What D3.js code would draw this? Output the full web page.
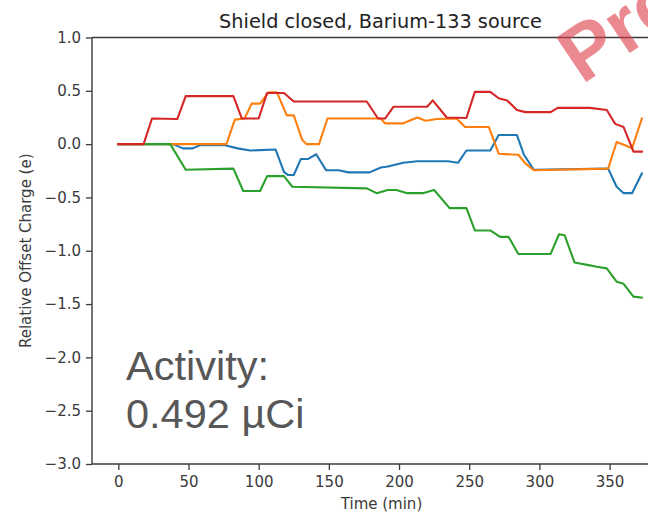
<!DOCTYPE html>
<html>
<head>
<meta charset="utf-8">
<script src="https://cdn.jsdelivr.net/npm/d3@7"></script>
<style>
  html, body { margin: 0; padding: 0; background: #fff; overflow: hidden; }
  svg { display: block; }
</style>
</head>
<body>
<svg id="chart" width="648" height="515"></svg>
<script>
// Relative offset charge of four qubits vs. time, Ba-133 source, shield closed
const blueSeries = [
  [0, 0], [39, 0], [46, -0.04], [53, -0.04], [58, -0.01], [76, -0.01], [85, -0.04],
  [94, -0.06], [112, -0.05], [118, -0.26], [121, -0.29], [125, -0.29], [130, -0.14],
  [135, -0.14], [141, -0.095], [148, -0.245], [157, -0.245], [164, -0.265], [179, -0.265],
  [187, -0.22], [192, -0.21], [203, -0.175], [213, -0.16], [235, -0.16], [242, -0.175],
  [248, -0.06], [265, -0.06], [271, 0.085], [284, 0.085], [289, -0.10], [296, -0.24],
  [349, -0.23], [355, -0.40], [360, -0.46], [366, -0.46], [373, -0.275]
];
const orangeSeries = [
  [0, 0], [77, 0], [83, 0.23], [90, 0.24], [95, 0.38], [101, 0.38], [107, 0.485],
  [113, 0.485], [120, 0.27], [125, 0.27], [131, 0.04], [134, 0.0], [143, 0.0], [149, 0.24],
  [187, 0.24], [190, 0.195], [203, 0.195], [213, 0.25], [219, 0.22], [227, 0.235],
  [241, 0.24], [247, 0.16], [264, 0.16], [271, -0.09], [285, -0.10], [290, -0.18],
  [296, -0.245], [349, -0.23], [355, 0.02], [361, -0.01], [366, -0.04], [373, 0.24]
];
const greenSeries = [
  [0, 0], [37, 0], [48, -0.24], [82, -0.23], [89, -0.44], [101, -0.44], [106, -0.30],
  [118, -0.30], [124, -0.40], [177, -0.415], [184, -0.46], [192, -0.43], [198, -0.43],
  [206, -0.46], [217, -0.46], [225, -0.43], [236, -0.60], [248, -0.60], [254, -0.81],
  [265, -0.81], [272, -0.87], [278, -0.87], [285, -1.03], [308, -1.03], [314, -0.845],
  [318, -0.855], [325, -1.11], [335, -1.135], [341, -1.15], [348, -1.165], [355, -1.29],
  [360, -1.31], [367, -1.43], [373, -1.44]
];
const redSeries = [
  [0, 0], [18, 0], [24, 0.24], [42, 0.235], [48, 0.45], [82, 0.45], [88, 0.24],
  [100, 0.24], [106, 0.48], [118, 0.48], [125, 0.40], [177, 0.40], [185, 0.24],
  [190, 0.24], [196, 0.35], [220, 0.35], [224, 0.41], [234, 0.25], [248, 0.245],
  [254, 0.49], [265, 0.49], [271, 0.43], [277, 0.41], [284, 0.32], [290, 0.30],
  [308, 0.30], [313, 0.34], [336, 0.34], [348, 0.32], [354, 0.19], [360, 0.16],
  [367, -0.07], [373, -0.07]
];
const seriesColors = ["#1f77b4", "#ff7f0e", "#2ca02c", "#d62728"];
const xTicks = [0, 50, 100, 150, 200, 250, 300, 350];
const yTicks = [1.0, 0.5, 0.0, -0.5, -1.0, -1.5, -2.0, -2.5, -3.0];
const titleText = "Shield closed, Barium-133 source";
const xLabel = "Time (min)";
const yLabel = "Relative Offset Charge (e)";
const activityLines = ["Activity:", "0.492 \u00b5Ci"];
const stampText = "Preliminary";

const svg = d3.select("#chart");
const plot = { left: 92, right: 671, top: 37.5, bottom: 464 };
const font = "'DejaVu Sans', sans-serif";
const ink = "#3a3a3a";

const x = d3.scaleLinear().domain([-18.75, 393.75]).range([plot.left, plot.right]);
const y = d3.scaleLinear().domain([-3, 1]).range([plot.bottom, plot.top]);

// traces
const line = d3.line().x(d => x(d[0])).y(d => y(d[1]));
[blueSeries, orangeSeries, greenSeries, redSeries].forEach((s, i) => {
  svg.append("path")
    .datum(s)
    .attr("d", line)
    .attr("fill", "none")
    .attr("stroke", seriesColors[i])
    .attr("stroke-width", 2.1)
    .attr("stroke-linejoin", "round")
    .attr("stroke-linecap", "square");
});

// axes
const fmtY = d => d3.format(".1f")(d).replace("-", "\u2212");
const yAxis = d3.axisLeft(y).tickValues(yTicks).tickFormat(fmtY).tickSize(6).tickPadding(5);
const xAxis = d3.axisBottom(x).tickValues(xTicks).tickFormat(d3.format("d")).tickSize(6).tickPadding(6);

const gy = svg.append("g").attr("transform", `translate(${plot.left},0)`).call(yAxis);
const gx = svg.append("g").attr("transform", `translate(0,${plot.bottom})`).call(xAxis);
[gx, gy].forEach(g => {
  g.select(".domain").remove();
  g.selectAll(".tick line").attr("stroke", ink).attr("stroke-width", 1.3);
  g.selectAll(".tick text").attr("fill", ink).style("font-family", font).style("font-size", "15px");
});

// frame
svg.append("line").attr("x1", plot.left).attr("x2", plot.left)
  .attr("y1", plot.top).attr("y2", plot.bottom).attr("stroke", ink).attr("stroke-width", 1.4);
svg.append("line").attr("x1", plot.left).attr("x2", plot.right)
  .attr("y1", plot.bottom).attr("y2", plot.bottom).attr("stroke", ink).attr("stroke-width", 1.4);
svg.append("line").attr("x1", plot.left).attr("x2", plot.right)
  .attr("y1", plot.top).attr("y2", plot.top).attr("stroke", ink).attr("stroke-width", 1.4);
svg.append("line").attr("x1", plot.right).attr("x2", plot.right)
  .attr("y1", plot.top).attr("y2", plot.bottom).attr("stroke", ink).attr("stroke-width", 1.4);

// titles
svg.append("text")
  .attr("x", (plot.left + plot.right) / 2 - 1).attr("y", 28)
  .attr("text-anchor", "middle")
  .style("font-family", font).style("font-size", "19.3px").attr("fill", "#222")
  .text(titleText);
svg.append("text")
  .attr("x", (plot.left + plot.right) / 2).attr("y", 509)
  .attr("text-anchor", "middle")
  .style("font-family", font).style("font-size", "15px").attr("fill", ink)
  .text(xLabel);
svg.append("text")
  .attr("transform", `translate(31,${(plot.top + plot.bottom) / 2}) rotate(-90)`)
  .attr("text-anchor", "middle")
  .style("font-family", font).style("font-size", "15px").attr("fill", ink)
  .text(yLabel);

// activity annotation
svg.append("text")
  .attr("x", 126).attr("y", 380)
  .style("font-family", "'Liberation Sans', Arial, sans-serif").style("font-size", "41.5px")
  .attr("fill", "#575757")
  .selectAll("tspan").data(activityLines).join("tspan")
  .attr("x", 126).attr("dy", (d, i) => i === 0 ? 0 : 48)
  .text(d => d);

// stamp across the upper-right corner
svg.append("text")
  .attr("transform", "translate(582,85) rotate(-34)")
  .style("font-family", "'Liberation Sans', Arial, sans-serif")
  .style("font-size", "78px").style("font-weight", "bold")
  .attr("fill", "#dc3c46").attr("fill-opacity", 0.6)
  .text(stampText);
</script>
</body>
</html>
